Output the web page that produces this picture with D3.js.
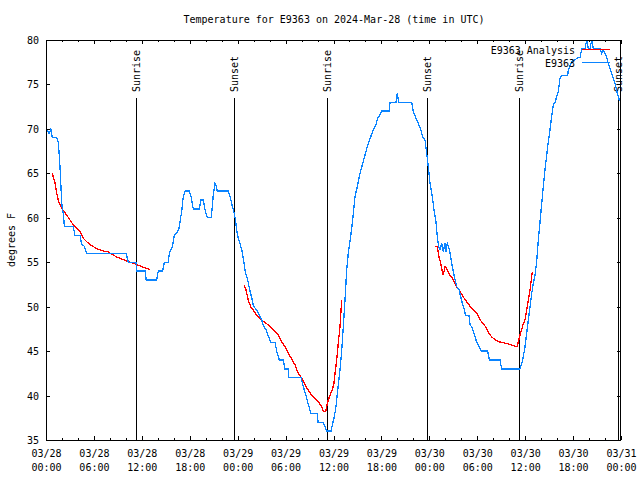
<!DOCTYPE html>
<html>
<head>
<meta charset="utf-8">
<script src="https://cdn.jsdelivr.net/npm/d3@7"></script>
<style>
  html, body { margin: 0; padding: 0; background: #fff; }
  svg { display: block; }
  text { font-family: "DejaVu Sans Mono", "Liberation Mono", monospace; font-size: 10px; fill: #000; }
</style>
</head>
<body>
<script>
// ---- data (hours since 2024-03-28 00:00 UTC, temperatures in °F) ----
const title = "Temperature for E9363 on 2024-Mar-28 (time in UTC)";
const yLabel = "degrees F";
const seriesNames = ["E9363 Analysis", "E9363"];
const yTicks = [35, 40, 45, 50, 55, 60, 65, 70, 75, 80];

const obsHours = [0.0,0.4,0.6,0.8,1.35,1.55,1.65,1.75,1.88,2.0,2.17,2.3,3.42,3.63,4.26,4.47,4.8,5.1,10.02,10.31,11.27,11.36,12.4,12.55,13.86,14.06,14.61,14.81,15.31,15.44,15.82,16.07,16.37,16.65,16.82,16.99,17.19,17.41,17.94,18.16,18.44,19.2,19.41,19.7,19.91,20.2,20.7,20.95,21.16,21.29,21.45,22.83,23.04,23.33,23.58,23.75,23.88,24.08,24.29,24.51,24.71,24.96,25.21,25.46,25.76,25.96,26.38,26.71,27.01,27.21,27.55,27.84,28.14,28.68,28.89,29.21,29.71,29.93,30.34,30.39,31.93,32.22,32.56,32.84,33.18,33.97,34.06,34.72,34.94,35.15,35.69,35.9,36.1,36.31,36.53,36.81,37.03,37.23,37.44,37.65,37.85,38.15,38.4,38.69,38.98,39.32,39.66,39.94,40.23,40.66,40.98,41.28,41.54,41.82,42.04,42.99,43.08,43.83,43.99,44.17,45.79,45.99,46.33,46.62,46.92,47.17,47.46,47.67,47.87,48.08,48.37,48.58,48.83,48.99,49.17,49.34,49.55,49.75,49.96,50.09,50.25,50.46,50.68,50.88,51.13,51.43,51.72,51.93,52.13,52.34,52.55,52.97,53.09,53.38,53.59,53.93,54.22,54.51,55.31,55.51,56.85,57.06,59.35,59.57,59.77,59.98,60.19,60.39,60.61,60.82,61.02,61.23,61.44,61.65,61.86,62.15,62.48,62.82,63.11,63.32,63.52,63.74,64.15,64.36,64.57,65.33,65.4,65.83,66.65,66.87,67.08,67.49,67.7,67.91,68.12,68.33,68.53,69.37,69.58,69.78,70.12,70.41,70.84,71.25,71.54,71.79,72.0];
const obsTemps = [70,69.5,70,69,69,68.4,67.2,65.8,63.3,61.3,60.5,59,59,58,58,57,56.8,56,56,55,55,54,54,53,53,54,54,55,55,56,56.7,58,58.3,58.8,59.8,60.7,62.4,63,63,62.4,61,61,62,62,60.9,60,60,62.6,63.9,63.6,63,63,62.4,61.3,60.5,59.6,58.6,57.7,57.1,56.4,55.4,53.9,53.2,52.1,51,50.1,49.6,49.1,48.5,47.9,47.4,46.7,46,46,45,44,44,43,43,42,42,41,40,39,38,38,37,37,36.5,36,36,36.9,37.6,38.75,40.6,42.9,45.1,47.75,50.75,54.1,56,57.9,59.75,62.4,63.5,65,66.1,67.06,68,69.1,69.95,70.4,71.2,71.6,72,72,73,73,74,73,73,72,71.2,70.6,69.9,69.1,68.75,67.25,65.75,63.9,62.4,60.9,59.56,57.9,56.75,56.4,57.1,56.2,57.1,56.2,57.1,56.6,55.6,54.5,53.4,52.25,51.9,51.1,50.4,49.8,49,49,48,47.6,47,46,45.5,45,45,44,44,43,43,43.6,44.4,45.5,47,48.5,50,51.5,52.6,53.56,55.06,57.5,59.5,62.37,65.4,68,69.9,71.4,72.7,73,74.2,75.7,76,76,76.6,77.6,78,78,79,79,80,79,79,80,79,79,78.5,78.9,78.3,77.4,76.25,75.1,74,73.25,73.25];

// analysis series, null marks a gap between segments
const anaHours = [0.79,1.13,1.34,1.54,1.75,2.09,2.59,3.01,3.42,3.84,4.26,4.67,5.1,5.72,6.35,6.97,7.8,8.23,8.85,9.48,10.1,10.73,11.36,11.98,12.61,13.02,
  null,
  24.79,25.04,25.33,25.63,25.88,26.17,26.58,27.01,27.42,27.84,28.26,28.68,29.09,29.51,29.93,30.34,30.77,31.18,31.59,32.02,32.43,32.85,33.27,33.68,34.1,34.52,34.72,35.02,35.15,35.35,35.65,35.9,36.06,36.19,36.4,36.6,36.81,37.03,
  null,
  48.71,49.0,49.21,49.42,49.62,49.75,49.96,50.17,50.46,50.68,50.88,51.09,51.43,51.84,52.25,52.68,53.09,53.51,53.93,54.35,54.76,55.18,55.47,55.81,56.22,56.64,57.26,57.89,58.52,59.02,59.14,59.35,59.57,59.77,59.98,60.19,60.39,60.61,60.82,60.9];
const anaTemps = [65,63.9,62.75,62,61.45,60.9,60.3,59.75,59.2,58.8,58.45,57.7,57.3,56.85,56.55,56.3,56.15,55.9,55.6,55.35,55.15,54.95,54.75,54.5,54.3,54.2,
  null,
  52.45,51.9,50.75,50,49.7,49.3,48.85,48.5,48.2,47.95,47.6,47.2,46.8,46.05,45.5,44.75,44.1,43.45,42.5,41.95,41.2,40.6,40.05,39.7,39.3,38.75,38.2,38.2,38.8,39.5,40.25,40.8,41.4,42.5,44,45.9,47.75,50.75,
  null,
  56.75,56.75,55.6,54.9,53.95,53.55,54.5,54.3,53.75,53.4,53.2,52.8,52.25,51.7,51.1,50.55,50.05,49.6,49.25,48.5,48.1,47.55,47,46.6,46.3,46.05,45.95,45.8,45.6,45.5,46.05,46.8,47.4,48.1,48.5,49.6,50.75,51.9,53.4,53.95];

const sunHours = [11.33, 23.58, 35.23, 47.67, 59.27, 71.67];
const sunLabels = ["Sunrise", "Sunset", "Sunrise", "Sunset", "Sunrise", "Sunset"];

// ---- layout ----
const W = 640, H = 480;
const L = 46, R = 621, T = 40, B = 440;
const t0 = Date.UTC(2024, 2, 28);
const toDate = h => new Date(t0 + h * 3600e3);

const x = d3.scaleUtc().domain([toDate(0), toDate(72)]).range([L, R]);
const y = d3.scaleLinear().domain([35, 80]).range([B, T]);

const svg = d3.select("body").append("svg").attr("width", W).attr("height", H);

svg.append("defs").append("clipPath").attr("id", "plot")
  .append("rect").attr("x", L).attr("y", T - 1).attr("width", R - L).attr("height", B - T + 2);

// title
svg.append("text").attr("x", (L + R) / 2 + 0.5).attr("y", 23).attr("text-anchor", "middle").text(title);
// y label
svg.append("text").attr("transform", `translate(15,${(T + B) / 2}) rotate(-90)`)
  .attr("text-anchor", "middle").text(yLabel);

// axes
const majorTicks = d3.utcHour.every(6).range(toDate(0), toDate(72.01));
const minorTicks = d3.utcHour.every(2).range(toDate(0), toDate(72.01)).filter(d => d.getUTCHours() % 6 !== 0);

function styleAxis(g) {
  g.select(".domain").remove();
  g.selectAll("line").attr("stroke", "#000").attr("shape-rendering", "crispEdges");
}

const xb = svg.append("g").attr("transform", `translate(0,${B})`)
  .call(d3.axisBottom(x).tickValues(majorTicks).tickSize(-4).tickSizeOuter(0).tickFormat(""));
styleAxis(xb);
xb.selectAll(".tick text").remove();
xb.selectAll(".tick").each(function(d) {
  const t = d3.select(this).append("text").attr("text-anchor", "middle").attr("y", 17);
  t.append("tspan").attr("x", 0).text(d3.utcFormat("%m/%d")(d));
  t.append("tspan").attr("x", 0).attr("dy", 14).text(d3.utcFormat("%H:%M")(d));
});
const xbm = svg.append("g").attr("transform", `translate(0,${B})`)
  .call(d3.axisBottom(x).tickValues(minorTicks).tickSize(-2).tickSizeOuter(0).tickFormat(""));
styleAxis(xbm);

const xt = svg.append("g").attr("transform", `translate(0,${T})`)
  .call(d3.axisTop(x).tickValues(majorTicks).tickSize(-4).tickSizeOuter(0).tickFormat(""));
styleAxis(xt);
const xtm = svg.append("g").attr("transform", `translate(0,${T})`)
  .call(d3.axisTop(x).tickValues(minorTicks).tickSize(-2).tickSizeOuter(0).tickFormat(""));
styleAxis(xtm);

const yl = svg.append("g").attr("transform", `translate(${L},0)`)
  .call(d3.axisLeft(y).tickValues(yTicks).tickSize(-4).tickSizeOuter(0).tickPadding(7).tickFormat(d3.format("d")));
styleAxis(yl);
yl.selectAll("text").attr("dy", "0.35em");
const yr = svg.append("g").attr("transform", `translate(${R},0)`)
  .call(d3.axisRight(y).tickValues(yTicks).tickSize(-4).tickSizeOuter(0).tickFormat(""));
styleAxis(yr);
svg.selectAll("g").attr("font-family", null).attr("font-size", null);

// sunrise / sunset markers
const sun = svg.append("g");
sunHours.forEach((h, i) => {
  const xx = Math.round(x(toDate(h))) + 0.5;
  sun.append("line").attr("x1", xx).attr("x2", xx).attr("y1", 98).attr("y2", B)
    .attr("stroke", "#000").attr("stroke-width", 1).attr("shape-rendering", "crispEdges");
  sun.append("text").attr("transform", `translate(${xx + 3.5},92) rotate(-90)`)
    .attr("text-anchor", "start").text(sunLabels[i]);
});

// series
const anaData = anaHours.map((h, i) => ({ h, t: anaTemps[i] }));
const obsData = obsHours.map((h, i) => ({ h, t: obsTemps[i] }));
const line = d3.line().defined(d => d.h != null && d.t != null)
  .x(d => x(toDate(d.h))).y(d => y(d.t));

const plot = svg.append("g").attr("clip-path", "url(#plot)");
plot.append("path").datum(anaData).attr("d", line)
  .attr("fill", "none").attr("stroke", "#ff0000").attr("stroke-width", 1.3)
  .attr("shape-rendering", "crispEdges");
plot.append("path").datum(obsData).attr("d", line)
  .attr("fill", "none").attr("stroke", "#0a84ff").attr("stroke-width", 1.3)
  .attr("shape-rendering", "crispEdges");

// legend
const legendColors = ["#ff0000", "#0a84ff"];
seriesNames.forEach((n, i) => {
  const ly = 50 + i * 13;
  svg.append("text").attr("x", 575).attr("y", ly).attr("dy", "0.35em").attr("text-anchor", "end").text(n);
  svg.append("line").attr("x1", 582).attr("x2", 610).attr("y1", ly - 0.5).attr("y2", ly - 0.5)
    .attr("stroke", legendColors[i]).attr("stroke-width", 1).attr("shape-rendering", "crispEdges");
});

// border
svg.append("rect").attr("x", L + 0.5).attr("y", T + 0.5).attr("width", R - L - 1).attr("height", B - T)
  .attr("fill", "none").attr("stroke", "#000").attr("stroke-width", 1).attr("shape-rendering", "crispEdges");
</script>
</body>
</html>
